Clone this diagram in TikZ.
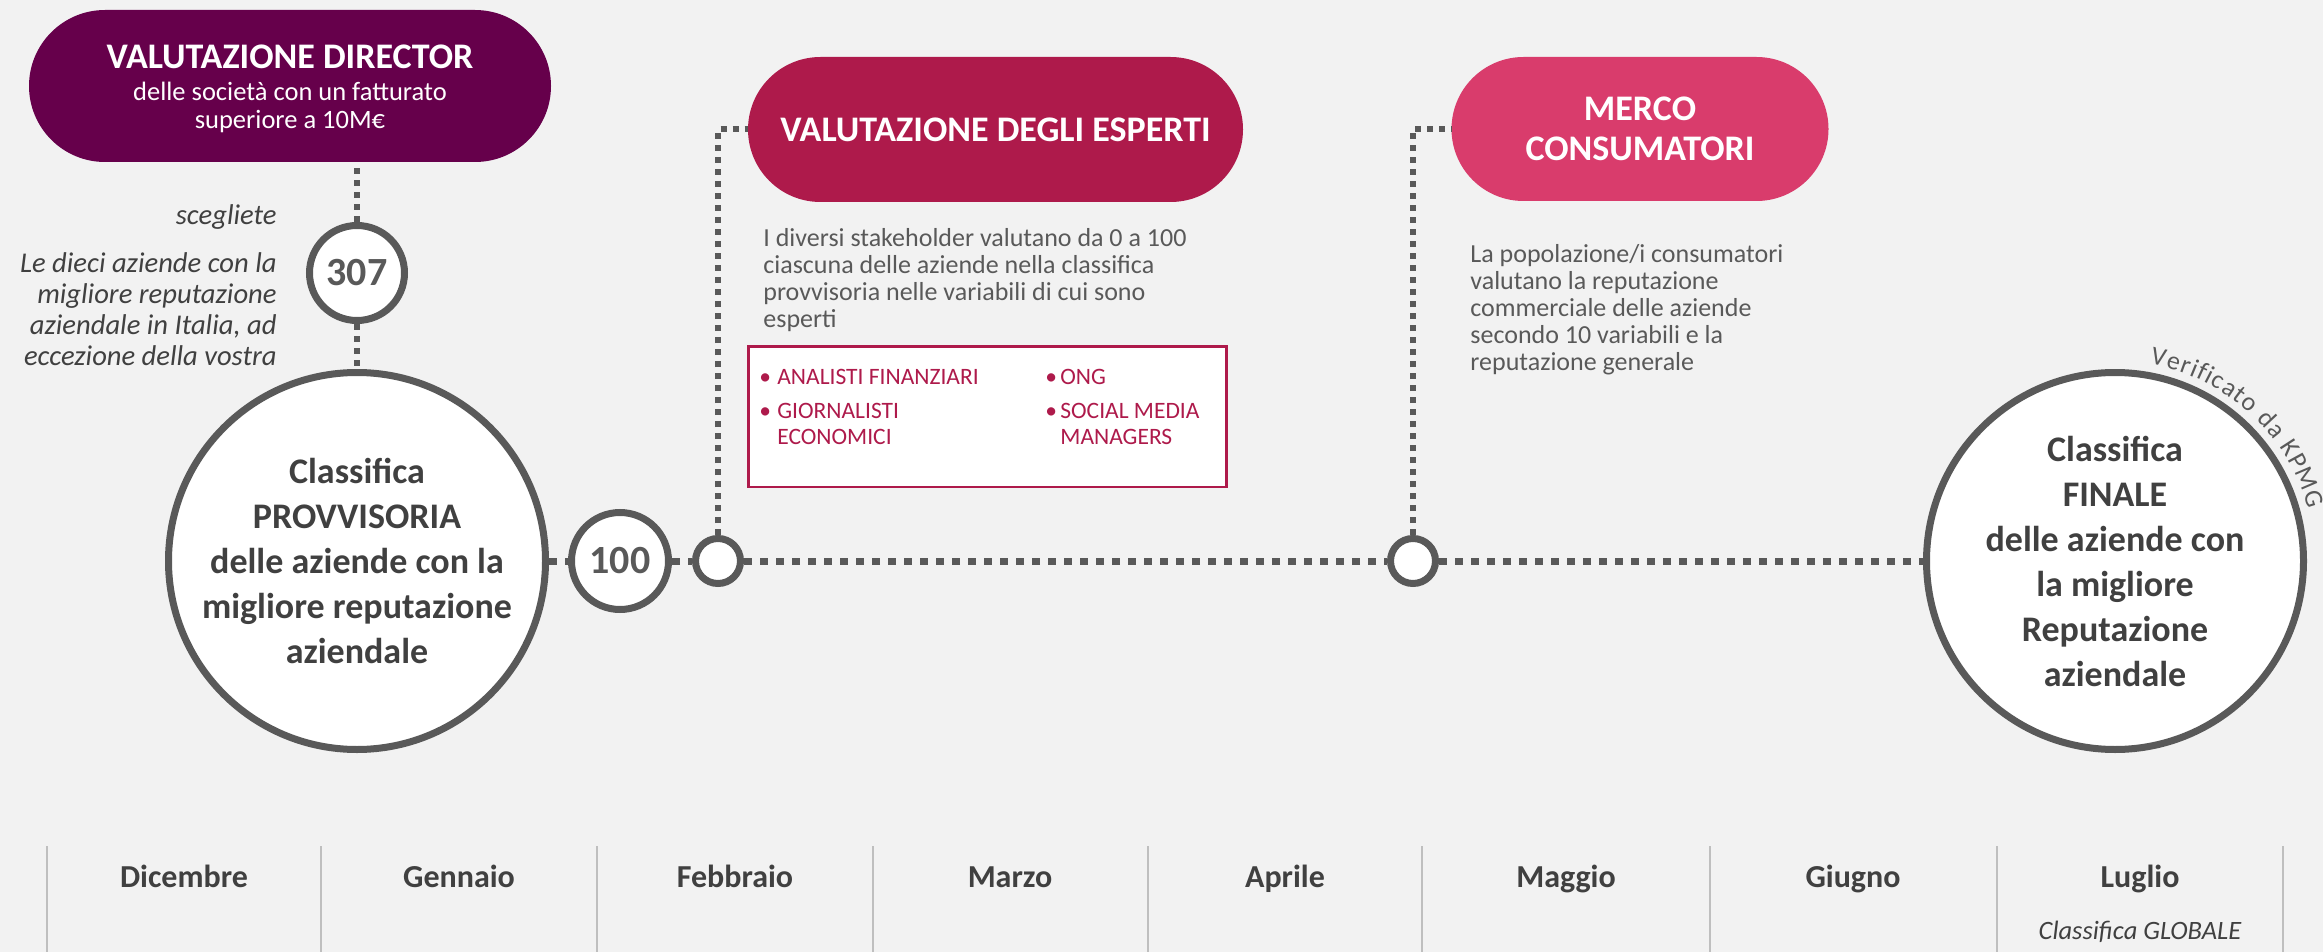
\documentclass[tikz,border=0pt]{standalone}
\usepackage{fontspec}
\setmainfont{Carlito}
\usetikzlibrary{decorations.text}
\definecolor{bggray}{HTML}{F2F2F2}
\definecolor{linegray}{HTML}{595959}
\definecolor{textdark}{HTML}{404040}
\definecolor{sepgray}{HTML}{BFBFBF}
\definecolor{directorpurple}{HTML}{66004B}
\definecolor{expertred}{HTML}{AE1A4B}
\definecolor{consumpink}{HTML}{D93C6C}

\begin{document}
\begin{tikzpicture}[x=0.5pt,y=0.5pt,yscale=-1,xscale=1,
  pill/.style={rectangle, text=white, align=center, inner sep=0pt},
  ring/.style={circle, draw=linegray, line width=3.5pt, fill=white, inner sep=0pt, align=center},
  dotline/.style={draw=linegray, line width=3.5pt, dash pattern=on 4pt off 4pt},
  dotlink/.style={draw=linegray, line width=3pt, dash pattern=on 3pt off 3pt},
  bigtext/.style={font=\bfseries\fontsize{18}{22.5}\selectfont, text=textdark},
  numtext/.style={font=\bfseries\fontsize{20}{24}\selectfont, text=linegray},
  desc/.style={font=\fontsize{13}{13.5}\selectfont, text=linegray, align=left, inner sep=0pt},
  note/.style={font=\itshape\fontsize{14.3}{15.5}\selectfont, text=textdark, inner sep=0pt},
  month/.style={font=\bfseries\fontsize{16}{19}\selectfont, text=textdark, inner sep=0pt}
]
	%set diagram size 2323 x 952
	\useasboundingbox (0,0) rectangle (2323,952);
	\fill[bggray] (0,0) rectangle (2323,952);
	
	% Pills
	\node[pill, fill=directorpurple, rounded corners=38pt, minimum width=261pt, minimum height=76pt, font=\fontsize{13.25}{14}\selectfont] (director) at (290,86) {\rule{0pt}{15pt}{\bfseries\fontsize{18}{20}\selectfont VALUTAZIONE DIRECTOR}\\[2pt]delle società con un fatturato\\superiore a 10M€};
	\node[pill, fill=expertred, rounded corners=36.25pt, minimum width=247.5pt, minimum height=72.5pt, font=\bfseries\fontsize{18}{20}\selectfont] (experts) at (995.5,129.5) {VALUTAZIONE DEGLI ESPERTI};
	\node[pill, fill=consumpink, rounded corners=36pt, minimum width=188.5pt, minimum height=72pt, font=\bfseries\fontsize{18}{19.75}\selectfont] (consumers) at (1640,129) {MERCO\\CONSUMATORI};
	
	% Circles
	\node[ring, minimum size=47.5pt, numtext] (n307) at (357,273) {307};
	\node[ring, minimum size=188.5pt, bigtext] (provisional) at (357,561) {Classifica\\PROVVISORIA\\delle aziende con la\\migliore reputazione\\aziendale};
	\node[ring, minimum size=48.5pt, numtext] (n100) at (620,561) {100};
	\node[ring, minimum size=22.5pt] (stepA) at (718,561) {};
	\node[ring, minimum size=22.5pt] (stepB) at (1413,561) {};
	\node[ring, minimum size=188.5pt, bigtext] (final) at (2115,561) {Classifica\\FINALE\\delle aziende con\\la migliore\\Reputazione\\aziendale};
	
	% Dotted connectors
	\draw[dotlink] (n307.north) -- (n307.north |- director.south);
	\draw[dotlink] (n307.south) -- (provisional.north);
	\draw[dotline] (provisional.east) -- (n100.west);
	\draw[dotline] (n100.east) -- (stepA.west);
	\draw[dotline] (stepA.east) -- (stepB.west);
	\draw[dotline] (stepB.east) -- (final.west);
	\draw[dotlink] (stepA.north) |- (experts.west);
	\draw[dotlink] (stepB.north) |- (consumers.west);
	
	% Text Nodes
	\node[note, anchor=base east] (choosenote) at (277,225) {scegliete};
	\node[note, anchor=north east, align=right] (topnote) at (277,252) {Le dieci aziende con la\\migliore reputazione\\aziendale in Italia, ad\\eccezione della vostra};
	\node[desc, anchor=north west] (expertsnote) at (763,228) {I diversi stakeholder valutano da 0 a 100\\ciascuna delle aziende nella classifica\\provvisoria nelle variabili di cui sono\\esperti};
	\node[desc, anchor=north west] (consumersnote) at (1470,244) {La popolazione/i consumatori\\valutano la reputazione\\commerciale delle aziende\\secondo 10 variabili e la\\reputazione generale};
	
	% Box of experts
	\node[draw=expertred, line width=1.25pt, fill=white, minimum width=239pt, minimum height=70.25pt, inner sep=0pt] (expertsbox) at (987.5,416.5) {};
	\node[anchor=north west, inner sep=0pt, text=expertred, font=\fontsize{11.75}{13}\selectfont] (expertslist) at (759,366) {\begin{tabular}{@{}p{9pt}@{}p{134pt}@{}p{7.5pt}@{}l@{}}
	\textbullet & ANALISTI FINANZIARI & \textbullet & ONG\\[4pt]
	\textbullet & GIORNALISTI & \textbullet & SOCIAL MEDIA\\
	 & ECONOMICI & & MANAGERS
	\end{tabular}};
	
	% Verificato along the circle
	\begin{scope}[yscale=-1]
	\path[decorate, decoration={text along path, text align=fit to path, text={|\fontsize{13}{15}\selectfont\color{linegray}|Verificato da KPMG}}] (final.center) ++(80:200) arc[start angle=80, end angle=15, radius=200];
	\end{scope}
	
	% Timeline
	\foreach \x in {47,321,597,873,1148,1422,1710,1997,2283}
	\draw[sepgray, line width=1pt] (\x,846) -- (\x,952);
	\foreach \x/\m in {184/Dicembre,459/Gennaio,735/Febbraio,1010/Marzo,1285/Aprile,1566/Maggio,1853/Giugno,2140/Luglio}
	\node[month, anchor=base] (m-\m) at (\x,887) {\m};
	\node[note, anchor=base, font=\itshape\fontsize{13.25}{15}\selectfont] (globalnote) at (2140,939) {Classifica GLOBALE};
	
\end{tikzpicture}
\end{document}
